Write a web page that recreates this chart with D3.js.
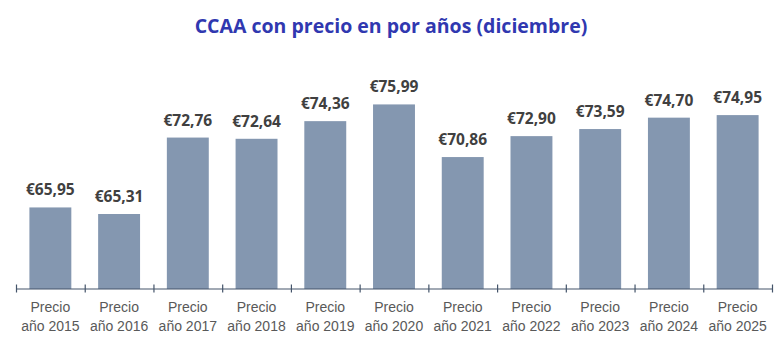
<!DOCTYPE html>
<html>
<head>
<meta charset="utf-8">
<script src="https://cdn.jsdelivr.net/npm/d3@7"></script>
<style>
  html, body { margin: 0; padding: 0; background: #fff; }
  svg { display: block; }
</style>
</head>
<body>
<div id="chart"></div>
<script>
// datos del gráfico
const years = ['2015', '2016', '2017', '2018', '2019', '2020', '2021', '2022', '2023', '2024', '2025'];
const prices = [65.95, 65.31, 72.76, 72.64, 74.36, 75.99, 70.86, 72.90, 73.59, 74.70, 74.95];
const labelLine1 = 'Precio';
const labelPrefix = 'año ';
const title = 'CCAA con precio en por años (diciembre)';

const width = 782, height = 353;
const axisY = 288.5;

const svg = d3.select('#chart').append('svg')
  .attr('width', width)
  .attr('height', height);

// escalas
const x = d3.scaleBand()
  .domain(years)
  .range([16, 772])
  .paddingInner(0.39)
  .paddingOuter(0.195);

const y = d3.scaleLinear()
  .domain([58, 78])
  .range([289, 83.8]);

const fmt = v => '€' + v.toFixed(2).replace('.', ',');

// título
svg.append('text')
  .attr('x', 391)
  .attr('y', 33)
  .attr('text-anchor', 'middle')
  .style('font-family', '"Open Sans", sans-serif')
  .style('font-size', '19.5px')
  .style('font-weight', '700')
  .style('fill', '#3038B0')
  .text(title);

// barras
svg.append('g').selectAll('rect')
  .data(years)
  .enter()
  .append('rect')
  .attr('x', d => x(d))
  .attr('y', (d, i) => y(prices[i]))
  .attr('width', x.bandwidth())
  .attr('height', (d, i) => y(y.domain()[0]) - y(prices[i]))
  .style('fill', '#8497B0');

// etiquetas de valor
svg.append('g').selectAll('text')
  .data(years)
  .enter()
  .append('text')
  .attr('x', d => x(d) + x.bandwidth() / 2)
  .attr('y', (d, i) => y(prices[i]) - 12)
  .attr('text-anchor', 'middle')
  .style('font-family', '"Open Sans", sans-serif')
  .style('font-size', '15.5px')
  .style('font-weight', '700')
  .style('fill', '#404040')
  .text((d, i) => fmt(prices[i]));

// eje x con marcas en los límites de categoría
const edge = d3.scaleLinear().domain([0, years.length]).range(x.range());
const axis = svg.append('g')
  .attr('transform', `translate(0,${axisY})`)
  .call(d3.axisBottom(edge).ticks(years.length).tickSizeInner(8).tickSizeOuter(0).tickFormat(''));
axis.select('.domain').attr('stroke', '#44546A').attr('stroke-width', 1.2);
axis.selectAll('.tick line').attr('y1', -4).attr('y2', 4).attr('stroke', '#44546A').attr('stroke-width', 1.2);

// etiquetas de categoría
const cat = svg.append('g').selectAll('text')
  .data(years)
  .enter()
  .append('text')
  .attr('text-anchor', 'middle')
  .style('font-family', '"Liberation Sans", Arial, sans-serif')
  .style('font-size', '14px')
  .style('fill', '#595959');

cat.append('tspan')
  .attr('x', d => x(d) + x.bandwidth() / 2)
  .attr('y', 312)
  .text(labelLine1);

cat.append('tspan')
  .attr('x', d => x(d) + x.bandwidth() / 2)
  .attr('y', 331)
  .text(d => labelPrefix + d);
</script>
</body>
</html>
